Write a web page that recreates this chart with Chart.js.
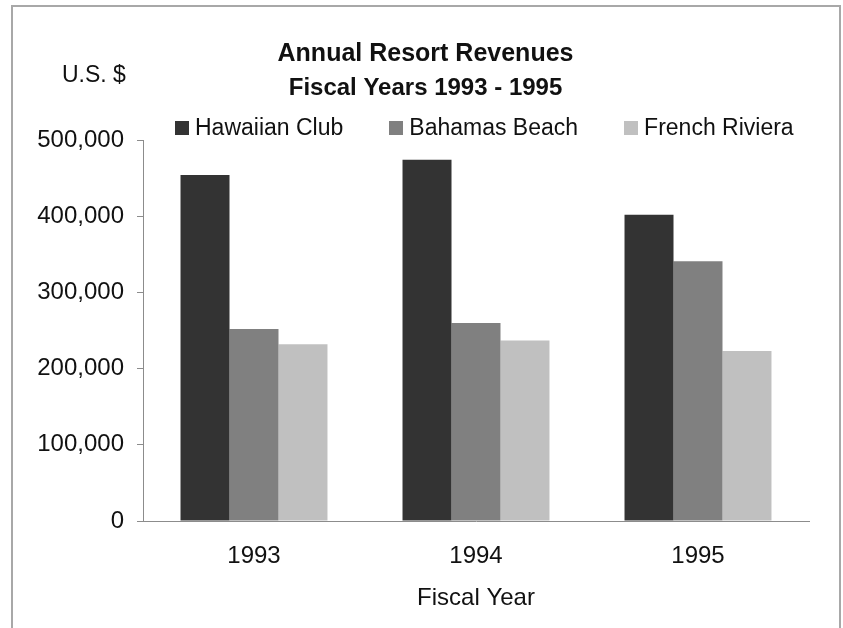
<!DOCTYPE html>
<html>
<head>
<meta charset="utf-8">
<script src="https://cdn.jsdelivr.net/npm/chart.js@4/dist/chart.umd.min.js"></script>
<style>
  body { margin: 0; background: #fff; font-family: 'Liberation Sans', Arial, sans-serif; color: #111; }
  #wrap { position: relative; width: 843px; height: 628px; overflow: hidden; }
  #frame { position: absolute; left: 11px; top: 5px; width: 826px; height: 640px; border: 2px solid #a8a8a8; }
  #chart { position: absolute; left: 0; top: 0; }
  #unit { position: absolute; left: 62px; top: 63px; font-size: 23px; line-height: 23px; }
  #legend { position: absolute; left: 175px; top: 116px; height: 23px; display: flex; align-items: center; gap: 46px; font-size: 23px; line-height: 23px; }
  #legend .item { display: flex; align-items: center; gap: 6px; }
  #legend .box { width: 14px; height: 14px; }
</style>
</head>
<body>
<div id="wrap">
  <div id="frame"></div>
  <canvas id="chart" width="843" height="628"></canvas>
  <div id="unit">U.S. $</div>
  <div id="legend"></div>
</div>
<script>
const years = ['1993', '1994', '1995'];
const seriesNames = ['Hawaiian Club', 'Bahamas Beach', 'French Riviera'];
const seriesColors = ['#333333', '#808080', '#c0c0c0'];
const hawaiianClub = [454000, 474000, 402000];
const bahamasBeach = [252000, 260000, 341000];
const frenchRiviera = [232000, 237000, 223000];
const yTicks = [0, 100000, 200000, 300000, 400000, 500000];

const fontFamily = "'Liberation Sans', Arial, sans-serif";
const seriesData = [hawaiianClub, bahamasBeach, frenchRiviera];

// legend built from the series names and colours
const legendEl = document.getElementById('legend');
seriesNames.forEach(function (name, i) {
    const item = document.createElement('div');
    item.className = 'item';
    const box = document.createElement('div');
    box.className = 'box';
    box.style.background = seriesColors[i];
    const label = document.createElement('span');
    label.textContent = name;
    item.appendChild(box);
    item.appendChild(label);
    legendEl.appendChild(item);
});

new Chart(document.getElementById('chart').getContext('2d'), {
    type: 'bar',
    data: {
        labels: years,
        datasets: seriesNames.map(function (name, i) {
            return {
                label: name,
                data: seriesData[i],
                backgroundColor: seriesColors[i],
                borderWidth: 0,
                barPercentage: 1.0,
                categoryPercentage: 0.662
            };
        })
    },
    options: {
        responsive: false,
        animation: false,
        layout: { padding: { left: 8, right: 0, top: 0, bottom: 0 } },
        plugins: {
            legend: { display: false },
            tooltip: { enabled: false },
            title: {
                display: true,
                text: 'Annual Resort Revenues',
                color: '#111',
                font: { family: fontFamily, size: 25, weight: 'bold' },
                padding: { top: 39, bottom: 0 }
            },
            subtitle: {
                display: true,
                text: 'Fiscal Years 1993 - 1995',
                color: '#111',
                font: { family: fontFamily, size: 24, weight: 'bold' },
                padding: { top: 5, bottom: 37.2 }
            }
        },
        scales: {
            x: {
                grid: { display: false, drawTicks: false },
                border: { display: true, color: '#8c8c8c', width: 1 },
                ticks: { color: '#111', padding: 21, font: { family: fontFamily, size: 24 } },
                title: {
                    display: true,
                    text: 'Fiscal Year',
                    color: '#111',
                    font: { family: fontFamily, size: 24 },
                    padding: { top: 10, bottom: 15 }
                },
                afterFit: function (scale) { scale.height = 107; }
            },
            y: {
                min: 0,
                max: yTicks[yTicks.length - 1],
                afterBuildTicks: function (scale) {
                    scale.ticks = yTicks.map(function (v) { return { value: v }; });
                },
                grid: { drawOnChartArea: false, drawTicks: true, tickLength: 6, color: '#8c8c8c' },
                border: { display: true, color: '#8c8c8c', width: 1 },
                ticks: {
                    color: '#111',
                    padding: 13,
                    font: { family: fontFamily, size: 24 },
                    callback: function (v) { return Number(v).toLocaleString('en-US'); }
                },
                afterFit: function (scale) { scale.width = 135; }
            },
            yRight: {
                position: 'right',
                display: true,
                grid: { display: false, drawTicks: false },
                border: { display: false },
                ticks: { display: false },
                afterFit: function (scale) { scale.width = 34; }
            }
        }
    }
});
</script>
</body>
</html>
